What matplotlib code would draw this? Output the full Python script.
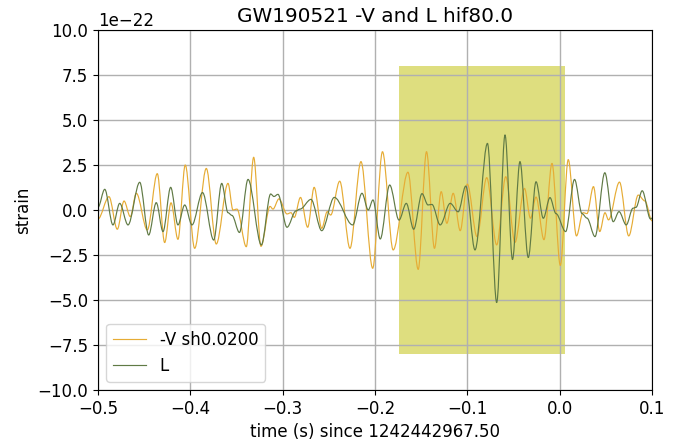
import matplotlib
matplotlib.use("Agg")
import matplotlib.pyplot as plt
import numpy as np
from matplotlib.path import Path
from matplotlib.patches import PathPatch
from matplotlib.lines import Line2D

# ---- data (strain in units of 1e-22) ----
title = "GW190521 -V and L hif80.0"
xlabel = "time (s) since 1242442967.50"
ylabel = "strain"
label_v = "-V sh0.0200"
label_l = "L"
scale = 1e-22

# L detector (green): times of extrema / turning points and values
l_t = [-0.5000, -0.4927, -0.4838, -0.4765, -0.4675, -0.4548, -0.4451, -0.4369, -0.4296,
       -0.4213, -0.4134, -0.4061, -0.3982, -0.3868, -0.3747, -0.3660, -0.3592, -0.3549,
       -0.3468, -0.3375, -0.3231, -0.3130, -0.3094, -0.3051, -0.2953, -0.2856, -0.2812,
       -0.2693, -0.2577, -0.2441, -0.2242, -0.2141, -0.2073, -0.2022, -0.1943, -0.1841,
       -0.1740, -0.1661, -0.1581, -0.1491, -0.1426, -0.1383, -0.1294, -0.1186, -0.1099,
       -0.1017, -0.0917, -0.0782, -0.0682, -0.0592, -0.0511, -0.0430, -0.0340, -0.0256,
       -0.0177, -0.0105, -0.0040, 0.0065, 0.0161, 0.0242, 0.0296, 0.0383, 0.0489,
       0.0580, 0.0643, 0.0721, 0.0794, 0.0827, 0.0894, 0.0984, 0.1000]
l_v = [0.15, 1.15, -0.83, 0.37, -0.83, 1.54, -1.39, 0.41, -1.20,
       1.26, -0.83, 0.28, -0.83, 0.97, -1.67, 1.48, -0.15, -0.30,
       -1.25, 1.70, -1.94, 0.89, 0.75, 0.87, -0.96, -0.05, 0.05,
       0.59, -1.15, 0.70, -0.83, 0.93, 0.00, 0.56, -1.61, 1.39,
       -0.56, 0.37, -1.07, 0.91, 0.28, 0.31, -0.83, 0.37, -0.10,
       1.33, -2.22, 3.70, -5.14, 4.17, -2.75, 2.69, -2.64, 1.57,
       -0.46, 0.69, -0.20, -1.20, 1.70, -0.20, -0.45, -1.48, 2.07,
       -0.65, -0.09, -0.83, 0.10, 0.15, 1.07, -0.50, -0.45]

# -V detector shifted (orange)
v_t = [-0.5000, -0.4881, -0.4791, -0.4718, -0.4650, -0.4585, -0.4466, -0.4358, -0.4278,
       -0.4209, -0.4134, -0.4055, -0.3953, -0.3827, -0.3719, -0.3592, -0.3538, -0.3495,
       -0.3394, -0.3314, -0.3235, -0.3137, -0.3105, -0.3040, -0.2953, -0.2910, -0.2874,
       -0.2807, -0.2729, -0.2659, -0.2577, -0.2517, -0.2480, -0.2382, -0.2271, -0.2152,
       -0.2025, -0.1919, -0.1803, -0.1643, -0.1532, -0.1442, -0.1356, -0.1283, -0.1222,
       -0.1153, -0.1077, -0.1000, -0.0895, -0.0790, -0.0682, -0.0584, -0.0484, -0.0381,
       -0.0316, -0.0256, -0.0170, -0.0083, 0.0007, 0.0093, 0.0182, 0.0253, 0.0296,
       0.0366, 0.0434, 0.0491, 0.0529, 0.0648, 0.0748, 0.0851, 0.0924, 0.1000]
v_v = [-0.50, 0.74, -1.07, 0.50, -0.37, 0.93, -1.11, 2.02, -1.81,
       0.40, -1.63, 2.50, -2.13, 2.31, -1.89, 1.48, 0.00, 0.05,
       -2.04, 2.93, -2.02, 0.20, 0.05, 0.62, -0.22, -0.15, -0.41,
       0.70, -0.96, 1.26, -1.02, -0.09, -0.28, 1.60, -2.13, 2.69,
       -3.24, 3.24, -2.22, 2.10, -3.30, 3.24, -2.13, 1.02, -0.74,
       0.93, -1.15, 1.44, -1.48, 1.80, -1.94, 1.85, -1.80, 1.20,
       -0.46, 0.72, -1.65, 2.59, -3.08, 2.80, -1.44, -0.15, -0.20,
       1.30, -1.20, -0.15, -0.55, 1.55, -1.44, 0.83, 0.50, -0.60]

# highlighted window
span_t = [-0.174, 0.006]
span_lo = -8.0
span_hi = 8.0

xticks = [-0.5, -0.4, -0.3, -0.2, -0.1, 0.0, 0.1]
yticks = [-10.0, -7.5, -5.0, -2.5, 0.0, 2.5, 5.0, 7.5, 10.0]

col_v = "#e6ac35"
col_l = "#607a45"


def smooth_patch(t, v, color, lw):
    t = np.asarray(t)
    v = np.asarray(v) * scale
    verts = [(t[0], v[0])]
    codes = [Path.MOVETO]
    for i in range(1, len(t)):
        dx = (t[i] - t[i - 1]) / 3.0
        verts += [(t[i - 1] + dx, v[i - 1]), (t[i] - dx, v[i]), (t[i], v[i])]
        codes += [Path.CURVE4] * 3
    return PathPatch(Path(verts, codes), facecolor="none", edgecolor=color,
                     lw=lw, zorder=2, capstyle="round", joinstyle="round")


plt.rcParams["font.size"] = 12
fig = plt.figure(figsize=(6.86, 4.45), dpi=100)
ax = fig.add_axes([98 / 686, 55 / 445, 554 / 686, 360 / 445])

ax.fill_between(span_t, span_lo * scale, span_hi * scale, color="y", alpha=0.5,
                linewidth=0, zorder=1)
ax.add_patch(smooth_patch(v_t, v_v, col_v, 0.85))
ax.add_patch(smooth_patch(l_t, l_v, col_l, 0.85))

ax.set_xlim(-0.5, 0.1)
ax.set_ylim(-10 * scale, 10 * scale)
ax.set_xticks(xticks)
ax.set_yticks(np.array(yticks) * scale)
ax.ticklabel_format(axis="y", style="sci", scilimits=(-22, -22))
ax.grid(True, color="#b0b0b0", lw=1.0)
ax.set_title(title, fontsize=14.4)
ax.set_xlabel(xlabel)
ax.set_ylabel(ylabel)

handles = [Line2D([], [], color=col_v, lw=0.85, label=label_v),
           Line2D([], [], color=col_l, lw=0.85, label=label_l)]
ax.legend(handles=handles, loc="lower left")

fig.savefig("out.png", dpi=100)
